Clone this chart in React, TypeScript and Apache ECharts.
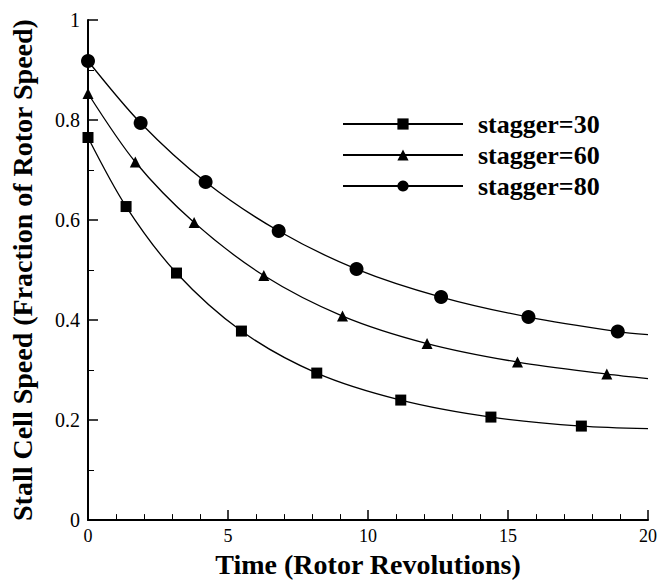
import React, { useEffect, useRef } from "react";
import * as echarts from "echarts";

const seriesNames = ["stagger=30", "stagger=60", "stagger=80"];
const seriesSymbols = ["rect", "triangle", "circle"];
const seriesSymbolSizes = [11, 11, 14];

const s30X = [0, 1.36, 3.16, 5.48, 8.17, 11.17, 14.39, 17.62];
const s30Y = [0.765, 0.627, 0.494, 0.378, 0.294, 0.24, 0.206, 0.188];
const s30End = 0.183;

const s60X = [0, 1.69, 3.79, 6.28, 9.09, 12.11, 15.34, 18.53];
const s60Y = [0.853, 0.716, 0.595, 0.489, 0.408, 0.353, 0.316, 0.292];
const s60End = 0.283;

const s80X = [0, 1.88, 4.2, 6.81, 9.59, 12.61, 15.73, 18.92];
const s80Y = [0.918, 0.794, 0.676, 0.578, 0.502, 0.446, 0.406, 0.377];
const s80End = 0.371;

const xEnd = 20;

const xTitle = "Time (Rotor Revolutions)";
const yTitle = "Stall Cell Speed (Fraction of Rotor Speed)";

const FONT = "serif";

function buildData(xs: number[], ys: number[], end: number) {
  const d: any[] = xs.map((x, i) => ({ value: [x, ys[i]] }));
  d.push({ value: [xEnd, end], symbol: "none" });
  return d;
}

export default function App() {
  const ref = useRef<HTMLDivElement>(null);
  useEffect(() => {
    if (!ref.current) return;
    const chart = echarts.init(ref.current, null, { renderer: "svg" });
    const datas = [
      buildData(s30X, s30Y, s30End),
      buildData(s60X, s60Y, s60End),
      buildData(s80X, s80Y, s80End),
    ];
    const axisCommon = {
      axisLine: { show: true, onZero: false, lineStyle: { color: "#000", width: 2 } },
      axisTick: { show: true, inside: true, length: 10, lineStyle: { color: "#000", width: 1.5 } },
      minorTick: { show: true, length: 6, lineStyle: { color: "#000", width: 1 } },
      splitLine: { show: false },
      nameLocation: "middle" as const,
      nameTextStyle: { fontFamily: FONT, fontWeight: "bold" as const, fontSize: 28, color: "#000" },
    };
    chart.setOption({
      animation: false,
      backgroundColor: "#fff",
      textStyle: { fontFamily: FONT },
      grid: { left: 85, right: 12, top: 20, bottom: 53, containLabel: false },
      legend: {
        orient: "vertical",
        left: 337,
        top: 106,
        itemWidth: 120,
        itemHeight: 14,
        itemGap: 5,
        data: seriesNames,
        textStyle: {
          fontFamily: FONT,
          fontWeight: "bold",
          fontSize: 26,
          color: "#000",
          padding: [0, 0, 0, 10],
        },
      },
      xAxis: {
        type: "value",
        min: 0,
        max: 20,
        interval: 5,
        name: xTitle,
        nameGap: 22,
        ...axisCommon,
        minorTick: { ...axisCommon.minorTick, splitNumber: 5 },
        axisLabel: { fontFamily: FONT, fontSize: 18, color: "#000", margin: 7 },
      },
      yAxis: {
        type: "value",
        min: 0,
        max: 1,
        interval: 0.2,
        name: yTitle,
        nameGap: 52,
        ...axisCommon,
        minorTick: { ...axisCommon.minorTick, splitNumber: 2 },
        axisLabel: { fontFamily: FONT, fontSize: 20, color: "#000", margin: 8 },
      },
      series: seriesNames.map((name, i) => ({
        name,
        type: "line",
        data: datas[i],
        smooth: 0.3,
        symbol: seriesSymbols[i],
        symbolSize: seriesSymbolSizes[i],
        showAllSymbol: true,
        lineStyle: { color: "#000", width: 1.3 },
        itemStyle: { color: "#000" },
        emphasis: { disabled: true },
      })),
    });
    return () => chart.dispose();
  }, []);
  return (
    <div
      ref={ref}
      style={{ position: "fixed", left: 0, top: 0, width: 660, height: 583, background: "#fff" }}
    />
  );
}
